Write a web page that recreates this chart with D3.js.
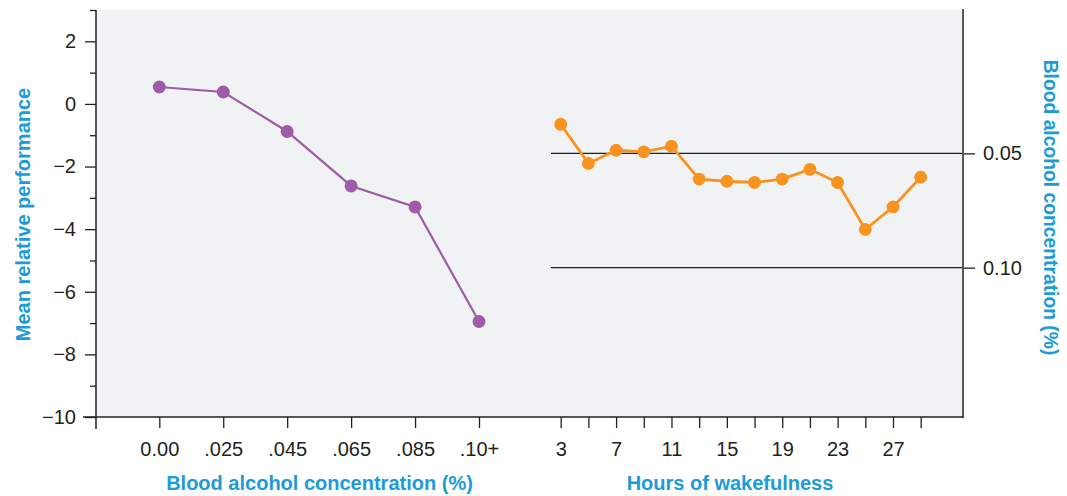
<!DOCTYPE html>
<html>
<head>
<meta charset="utf-8">
<script src="https://cdn.jsdelivr.net/npm/d3@7"></script>
<style>
  html, body { margin: 0; padding: 0; background: #ffffff; }
  svg { display: block; }
  text { font-family: "Liberation Sans", Arial, Helvetica, sans-serif; }
</style>
</head>
<body>
<svg id="chart" width="1067" height="496"></svg>
<script>
// ---- data ----
const bacLabels = ["0.00", ".025", ".045", ".065", ".085", ".10+"];
const bacPerformance = [0.54, 0.38, -0.88, -2.62, -3.29, -6.95];

const wakeHours = [3, 5, 7, 9, 11, 13, 15, 17, 19, 21, 23, 25, 27, 29];
const wakePerformance = [-0.65, -1.90, -1.48, -1.53, -1.35, -2.40, -2.47, -2.51, -2.40, -2.09, -2.51, -4.01, -3.29, -2.34];

const perfMajorTicks = [-10, -8, -6, -4, -2, 0, 2];
const perfMinorTicks = [-9, -7, -5, -3, -1, 1, 3];
const hourTicks = [3, 5, 7, 9, 11, 13, 15, 17, 19, 21, 23, 25, 27, 29];
const hourLabelTicks = [3, 7, 11, 15, 19, 23, 27];

const bacRefLevels = [0.05, 0.10];
const bacRefLabels = ["0.05", "0.10"];
const bacRefPerformance = [-1.58, -5.23];

const titleLeftX = "Blood alcohol concentration (%)";
const titleRightX = "Hours of wakefulness";
const titleY = "Mean relative performance";
const titleY2 = "Blood alcohol concentration (%)";

// ---- layout ----
const svg = d3.select("#chart");
const plotL = 96, plotR = 963, plotT = 10, plotB = 417;
const ink = "#231f20";
const blue = "#1b9bd7";
const purple = "#9e5ba8";
const orange = "#f7931e";

const y = d3.scaleLinear().domain([-10, 3]).range([plotB, plotT]);
const xBac = d3.scalePoint().domain(bacLabels).range([159.3, 479]);
const xHours = d3.scaleLinear().domain([3, 29]).range([560.7, 920.7]);
const yBac = d3.scaleLinear().domain(bacRefLevels).range(bacRefPerformance.map(v => y(v)));

// background
svg.append("rect").attr("x", plotL).attr("y", plotT)
  .attr("width", plotR - plotL).attr("height", plotB - plotT)
  .attr("fill", "#f1f2f4");

// reference lines (BAC equivalents)
const refG = svg.append("g");
refG.selectAll("line").data(bacRefLevels).join("line")
  .attr("x1", 551).attr("x2", plotR)
  .attr("y1", d => yBac(d)).attr("y2", d => yBac(d))
  .attr("stroke", ink).attr("stroke-width", 1.3);

// right axis
const rightAxis = svg.append("g").attr("transform", `translate(${plotR},0)`)
  .call(d3.axisRight(yBac).tickValues(bacRefLevels)
    .tickFormat((d, i) => bacRefLabels[i]).tickSize(12).tickPadding(8));
rightAxis.select(".domain").remove();
rightAxis.selectAll(".tick line").attr("stroke", ink).attr("stroke-width", 1.3);
rightAxis.selectAll(".tick text").attr("font-size", 20).attr("fill", ink)
  .attr("font-family", "Liberation Sans, Arial, sans-serif");
svg.append("line").attr("x1", plotR).attr("x2", plotR).attr("y1", plotT - 1).attr("y2", plotB + 1)
  .attr("stroke", "#58595b").attr("stroke-width", 2);

// left axis: major + minor ticks
const leftMajor = svg.append("g").attr("transform", `translate(${plotL},0)`)
  .call(d3.axisLeft(y).tickValues(perfMajorTicks)
    .tickFormat(d => d < 0 ? "\u2212" + Math.abs(d) : String(d)).tickSize(11).tickPadding(9));
leftMajor.select(".domain").remove();
leftMajor.selectAll(".tick line").attr("stroke", ink).attr("stroke-width", 1.3);
leftMajor.selectAll(".tick text").attr("font-size", 20).attr("fill", ink)
  .attr("font-family", "Liberation Sans, Arial, sans-serif");

const leftMinor = svg.append("g").attr("transform", `translate(${plotL},0)`)
  .call(d3.axisLeft(y).tickValues(perfMinorTicks).tickFormat("").tickSize(6));
leftMinor.select(".domain").remove();
leftMinor.selectAll(".tick line").attr("stroke", ink).attr("stroke-width", 1.3);

// x axes
const bacAxis = svg.append("g").attr("transform", `translate(0,${plotB})`)
  .call(d3.axisBottom(xBac).tickSize(11).tickPadding(14));
bacAxis.select(".domain").remove();
bacAxis.selectAll(".tick line").attr("stroke", ink).attr("stroke-width", 1.3);
bacAxis.selectAll(".tick text").attr("font-size", 20).attr("fill", ink)
  .attr("font-family", "Liberation Sans, Arial, sans-serif");

const hourAxis = svg.append("g").attr("transform", `translate(0,${plotB})`)
  .call(d3.axisBottom(xHours).tickValues(hourTicks)
    .tickFormat(d => hourLabelTicks.includes(d) ? String(d) : "").tickSize(11).tickPadding(14));
hourAxis.select(".domain").remove();
hourAxis.selectAll(".tick line").attr("stroke", ink).attr("stroke-width", 1.3);
hourAxis.selectAll(".tick text").attr("font-size", 20).attr("fill", ink)
  .attr("font-family", "Liberation Sans, Arial, sans-serif");

// axis lines
svg.append("line").attr("x1", plotL).attr("x2", plotL).attr("y1", plotT).attr("y2", plotB + 12)
  .attr("stroke", ink).attr("stroke-width", 1.5);
svg.append("line").attr("x1", 83).attr("x2", plotR).attr("y1", plotB).attr("y2", plotB)
  .attr("stroke", ink).attr("stroke-width", 1.5);

// purple series
const bacData = bacLabels.map((b, i) => ({ x: xBac(b), y: y(bacPerformance[i]) }));
svg.append("path").datum(bacData)
  .attr("d", d3.line().x(d => d.x).y(d => d.y))
  .attr("fill", "none").attr("stroke", purple).attr("stroke-width", 2.2);
svg.append("g").selectAll("circle").data(bacData).join("circle")
  .attr("cx", d => d.x).attr("cy", d => d.y).attr("r", 6.5).attr("fill", purple);

// orange series
const wakeData = wakeHours.map((h, i) => ({ x: xHours(h), y: y(wakePerformance[i]) }));
svg.append("path").datum(wakeData)
  .attr("d", d3.line().x(d => d.x).y(d => d.y))
  .attr("fill", "none").attr("stroke", orange).attr("stroke-width", 2.8);
svg.append("g").selectAll("circle").data(wakeData).join("circle")
  .attr("cx", d => d.x).attr("cy", d => d.y).attr("r", 6.4).attr("fill", orange);

// titles
const titleStyle = sel => sel.attr("font-size", 20).attr("font-weight", "bold").attr("fill", blue)
  .attr("text-anchor", "middle");
svg.append("text").text(titleLeftX).call(titleStyle).attr("x", 319.5).attr("y", 490);
svg.append("text").text(titleRightX).call(titleStyle).attr("x", 730).attr("y", 490);
svg.append("text").text(titleY).call(titleStyle)
  .attr("transform", "translate(29.5,214.5) rotate(-90)");
svg.append("text").text(titleY2).call(titleStyle).attr("font-size", 19.3)
  .attr("transform", "translate(1043.5,207.5) rotate(90)");
</script>
</body>
</html>
